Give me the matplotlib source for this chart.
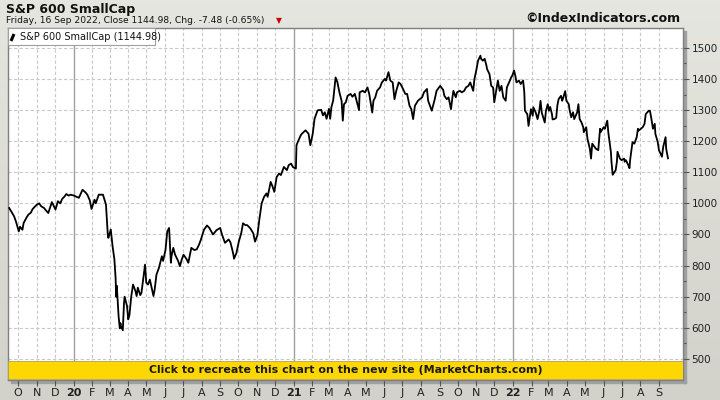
import numpy as np
import pandas as pd
import matplotlib
matplotlib.use("Agg")
import matplotlib.pyplot as plt
from matplotlib.patches import Rectangle
from matplotlib.colors import LinearSegmentedColormap

title="S&P 600 SmallCap"
subtitle="Friday, 16 Sep 2022, Close 1144.98, Chg. -7.48 (-0.65%)"
legend_label="S&P 600 SmallCap (1144.98)"
banner="Click to recreate this chart on the new site (MarketCharts.com)"
credit="\u00a9IndexIndicators.com"

# closes
dates=["2019-09-16","2019-09-20","2019-09-24","2019-09-27","2019-10-02","2019-10-04","2019-10-08","2019-10-10",
       "2019-10-15","2019-10-18","2019-10-22","2019-10-25","2019-11-01","2019-11-05","2019-11-08","2019-11-13",
       "2019-11-15","2019-11-20","2019-11-26","2019-12-02","2019-12-06","2019-12-10","2019-12-13","2019-12-17",
       "2019-12-20","2019-12-24","2019-12-27","2020-01-02","2020-01-06","2020-01-10","2020-01-16","2020-01-21",
       "2020-01-24","2020-01-28","2020-01-31","2020-02-05","2020-02-07","2020-02-12","2020-02-19","2020-02-21",
       "2020-02-24","2020-02-27","2020-02-28","2020-03-03","2020-03-06","2020-03-09","2020-03-11","2020-03-12",
       "2020-03-13","2020-03-16","2020-03-18","2020-03-19","2020-03-20","2020-03-23","2020-03-25","2020-03-26",
       "2020-03-30","2020-04-01","2020-04-03","2020-04-06","2020-04-09","2020-04-13","2020-04-15","2020-04-17",
       "2020-04-21","2020-04-23","2020-04-27","2020-04-29","2020-05-01","2020-05-04","2020-05-07","2020-05-13",
       "2020-05-15","2020-05-18","2020-05-22","2020-05-27","2020-05-29","2020-06-02","2020-06-05","2020-06-08",
       "2020-06-11","2020-06-12","2020-06-15","2020-06-18","2020-06-23","2020-06-26","2020-06-29","2020-07-02",
       "2020-07-07","2020-07-10","2020-07-15","2020-07-20","2020-07-24","2020-07-28","2020-07-31","2020-08-05",
       "2020-08-10","2020-08-14","2020-08-20","2020-08-26","2020-09-01","2020-09-04","2020-09-09","2020-09-15",
       "2020-09-18","2020-09-21","2020-09-23","2020-09-24","2020-09-28","2020-10-02","2020-10-06","2020-10-09",
       "2020-10-13","2020-10-16","2020-10-21","2020-10-26","2020-10-29","2020-11-02","2020-11-05","2020-11-09",
       "2020-11-13","2020-11-17","2020-11-19","2020-11-24","2020-11-27","2020-11-30","2020-12-04","2020-12-08",
       "2020-12-11","2020-12-16","2020-12-21","2020-12-24","2020-12-28","2020-12-31","2021-01-05","2021-01-06",
       "2021-01-08","2021-01-13","2021-01-15","2021-01-21","2021-01-26","2021-01-29","2021-02-02","2021-02-05",
       "2021-02-10","2021-02-16","2021-02-19","2021-02-22","2021-02-25","2021-03-01","2021-03-03","2021-03-05",
       "2021-03-08","2021-03-12","2021-03-15","2021-03-17","2021-03-19","2021-03-22","2021-03-24","2021-03-26",
       "2021-03-29","2021-04-01","2021-04-06","2021-04-09","2021-04-13","2021-04-20","2021-04-21","2021-04-26",
       "2021-04-30","2021-05-04","2021-05-07","2021-05-12","2021-05-14","2021-05-17","2021-05-20","2021-05-25",
       "2021-05-28","2021-06-02","2021-06-04","2021-06-08","2021-06-11","2021-06-15","2021-06-18","2021-06-21",
       "2021-06-25","2021-06-28","2021-07-01","2021-07-06","2021-07-09","2021-07-13","2021-07-16","2021-07-19",
       "2021-07-22","2021-07-27","2021-07-30","2021-08-03","2021-08-06","2021-08-11","2021-08-13","2021-08-19",
       "2021-08-24","2021-08-27","2021-09-02","2021-09-07","2021-09-09","2021-09-13","2021-09-16","2021-09-20",
       "2021-09-22","2021-09-24","2021-09-28","2021-09-30","2021-10-05","2021-10-08","2021-10-12","2021-10-15",
       "2021-10-19","2021-10-22","2021-10-27","2021-10-29","2021-11-01","2021-11-04","2021-11-08","2021-11-09",
       "2021-11-12","2021-11-15","2021-11-18","2021-11-19","2021-11-23","2021-11-26","2021-11-29","2021-12-01",
       "2021-12-06","2021-12-07","2021-12-10","2021-12-13","2021-12-16","2021-12-20","2021-12-22","2021-12-27",
       "2021-12-29","2021-12-31","2022-01-03","2022-01-05","2022-01-07","2022-01-11","2022-01-14","2022-01-18",
       "2022-01-20","2022-01-21","2022-01-25","2022-01-27","2022-01-31","2022-02-03","2022-02-04","2022-02-08",
       "2022-02-11","2022-02-14","2022-02-16","2022-02-18","2022-02-23","2022-02-25","2022-02-28","2022-03-02",
       "2022-03-04","2022-03-07","2022-03-08","2022-03-11","2022-03-14","2022-03-16","2022-03-18","2022-03-22",
       "2022-03-24","2022-03-25","2022-03-29","2022-03-31","2022-04-04","2022-04-05","2022-04-08","2022-04-11",
       "2022-04-13","2022-04-18","2022-04-20","2022-04-22","2022-04-25","2022-04-28","2022-04-29","2022-05-03",
       "2022-05-05","2022-05-09","2022-05-11","2022-05-13","2022-05-17","2022-05-19","2022-05-23","2022-05-26",
       "2022-05-27","2022-06-01","2022-06-03","2022-06-07","2022-06-09","2022-06-13","2022-06-14","2022-06-16",
       "2022-06-21","2022-06-23","2022-06-24","2022-06-28","2022-07-01","2022-07-05","2022-07-06","2022-07-08",
       "2022-07-12","2022-07-14","2022-07-15","2022-07-19","2022-07-22","2022-07-26","2022-07-28","2022-07-29",
       "2022-08-02","2022-08-05","2022-08-08","2022-08-10","2022-08-15","2022-08-17","2022-08-19","2022-08-22",
       "2022-08-25","2022-08-26","2022-08-30","2022-09-01","2022-09-06","2022-09-08","2022-09-12","2022-09-13",
       "2022-09-16"]
closes=[985,972,959,943,910,925,915,937,
        955,964,970,982,996,1000,991,985,
        980,969,1004,980,1007,1000,1014,1022,
        1030,1025,1028,1025,1021,1018,1044,1035,
        1028,1010,982,1012,1000,1028,1028,1015,
        996,900,889,916,862,820,760,700,
        735,637,598,615,605,592,680,700,
        670,627,640,700,739,718,702,729,
        705,712,771,803,745,739,755,702,
        723,771,792,830,815,850,910,921,
        809,830,857,835,815,798,819,835,
        821,809,857,850,852,868,884,915,
        929,921,900,914,921,900,873,884,
        875,852,835,822,840,877,904,936,
        930,930,920,904,877,898,946,1000,
        1021,1032,1021,1069,1055,1037,1085,1096,
        1091,1117,1107,1123,1128,1117,1112,1187,
        1197,1219,1224,1235,1224,1187,1224,1272,
        1299,1301,1283,1293,1272,1304,1272,1309,
        1331,1405,1390,1370,1352,1330,1266,1319,
        1325,1346,1352,1343,1352,1300,1357,1362,
        1357,1373,1352,1292,1330,1341,1362,1373,
        1389,1400,1395,1422,1395,1389,1335,1362,
        1389,1384,1373,1352,1352,1314,1303,1271,
        1314,1330,1335,1341,1357,1368,1330,1298,
        1335,1362,1378,1365,1346,1335,1341,1303,
        1335,1362,1341,1357,1362,1357,1362,1373,
        1378,1389,1362,1400,1427,1459,1475,1465,
        1459,1465,1443,1432,1416,1378,1373,1325,
        1384,1395,1362,1378,1341,1330,1373,1395,
        1405,1411,1427,1411,1389,1395,1384,1395,
        1357,1298,1287,1249,1303,1282,1309,1292,
        1271,1298,1330,1292,1260,1298,1319,1298,
        1310,1287,1270,1271,1275,1315,1335,1346,
        1330,1335,1361,1330,1319,1303,1277,1293,
        1271,1293,1319,1271,1261,1245,1229,1245,
        1208,1176,1144,1192,1181,1176,1171,1240,
        1229,1245,1240,1266,1224,1166,1134,1092,
        1107,1134,1166,1144,1139,1144,1134,1139,
        1123,1113,1139,1197,1192,1213,1240,1234,
        1240,1245,1256,1287,1298,1298,1277,1240,
        1256,1224,1197,1171,1150,1181,1213,1176,
        1145]

month_letters=["J","F","M","A","M","J","J","A","S","O","N","D"]
y_ticks=[500,600,700,800,900,1000,1100,1200,1300,1400,1500]
y_minor=[550,650,750,850,950,1050,1150,1250,1350,1450]

W,H=720,400
fig=plt.figure(figsize=(W/100,H/100), dpi=100)

# grey gradient page background
bg=fig.add_axes([0,0,1,1], zorder=-10)
grad=np.linspace(0,1,200).reshape(-1,1)
bg.imshow(grad, aspect="auto", extent=[0,1,0,1],
          cmap=LinearSegmentedColormap.from_list("bg",["#e6e6e0","#d2d2ca"]))
bg.axis("off")

L,R,T,B=8,683,28,380
ax=fig.add_axes([L/W, 1-B/H, (R-L)/W, (B-T)/H])
ax.set_facecolor("white")

d=pd.to_datetime(dates)
ax.plot(d, closes, color="black", lw=1.3, zorder=4)
ax.set_xlim(pd.Timestamp("2019-09-14"), pd.Timestamp("2022-10-11"))
ax.set_ylim(432, 1564)

months=pd.date_range("2019-10-01","2022-09-01",freq="MS")
for m in months:
    if m.month==1:
        ax.axvline(m, color="#a0a0a0", lw=1, zorder=1)
    else:
        ax.axvline(m, color="#c8c8c8", lw=0.8, ls=(0,(3,2)), zorder=1)
for v in y_ticks:
    ax.axhline(v, color="#c8c8c8", lw=0.8, ls=(0,(3,2)), zorder=1)

ax.set_xticks(months)
ax.set_xticklabels([str(m.year)[2:] if m.month==1 else month_letters[m.month-1] for m in months])
for lab,m in zip(ax.get_xticklabels(), months):
    if m.month==1:
        lab.set_fontweight("bold")
ax.tick_params(axis="x", length=4, width=0.8, color="#555555", labelsize=8, pad=1.5, labelcolor="#222222")

ax.yaxis.tick_right()
ax.set_yticks(y_ticks)
ax.set_yticks(y_minor, minor=True)
ax.tick_params(axis="y", which="major", length=4, width=0.8, color="#555555", labelsize=7.5, pad=2, labelcolor="#222222")
ax.tick_params(axis="y", which="minor", length=2, width=0.8, color="#555555")
for s in ax.spines.values():
    s.set_color("#808080")
    s.set_linewidth(1)

# shadow on right and bottom of the plot frame
fig.add_artist(Rectangle((R/W, 1-(B+3)/H), 3/W, (B-T)/H, transform=fig.transFigure, color="#a0a0a0", zorder=-5))
fig.add_artist(Rectangle(((L+3)/W, 1-(B+3)/H), (R-L)/W, 3/H, transform=fig.transFigure, color="#a0a0a0", zorder=-5))

# yellow banner
ax.add_patch(Rectangle((0, 1/(B-T)), 1, 18/(B-T), transform=ax.transAxes, facecolor="#ffd700",
                       edgecolor="#b0a060", lw=0.6, zorder=6))
ax.text(0.5, 10/(B-T), banner, transform=ax.transAxes, ha="center", va="center",
        fontsize=7.9, fontweight="bold", color="#1a1a1a", zorder=7)

# legend box
ax.add_patch(Rectangle((0, 1-17/(B-T)), 147/(R-L), 17/(B-T), transform=ax.transAxes, facecolor="white",
                       edgecolor="#a0a0a0", lw=0.8, zorder=6))
ax.plot([3/(R-L), 6/(R-L)], [1-13/(B-T), 1-6/(B-T)], transform=ax.transAxes, color="black", lw=2.2, zorder=7,
        solid_capstyle="butt")
ax.text(12/(R-L), 1-8.5/(B-T), legend_label, transform=ax.transAxes, ha="left", va="center",
        fontsize=7, color="#111111", zorder=7)

fig.text(6/W, 1-9/H, title, ha="left", va="center", fontsize=9, fontweight="bold", color="#111111")
fig.text(6/W, 1-20.5/H, subtitle, ha="left", va="center", fontsize=6.6, color="#111111")
fig.text(279/W, 1-21/H, "\u25bc", ha="center", va="center", fontsize=5.5, color="#cc0000")
fig.text(680/W, 1-18/H, credit, ha="right", va="center", fontsize=9, fontweight="bold", color="#111111")

fig.savefig("out.png", dpi=100)
